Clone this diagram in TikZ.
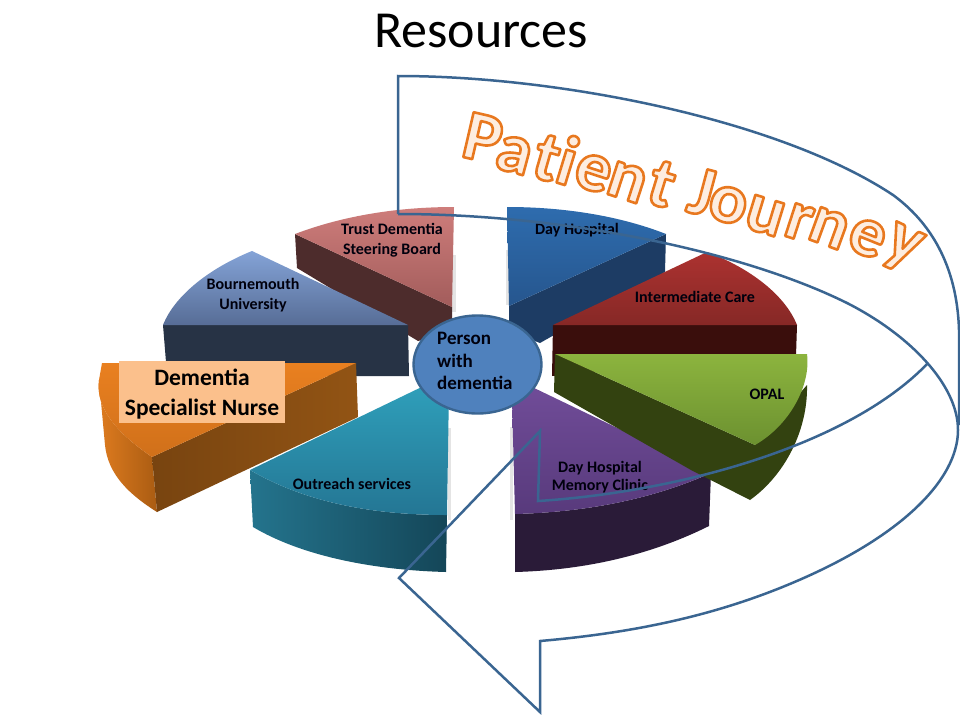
\documentclass[tikz,border=0pt]{standalone}
\usepackage{fontspec}
\setmainfont{Carlito}
\usetikzlibrary{calc,shapes.geometric}
\definecolor{arrowblue}{HTML}{3A6591}
\definecolor{jfill}{HTML}{FDEDE0}
\newcommand\jletter[1]{\special{pdf:code 2 Tr 2.6 w 0.91 0.47 0.12 RG 1 j}#1\special{pdf:code 0 Tr}}
\tikzset{
  lab/.style={font=\bfseries\fontsize{16}{20}\selectfont, align=center, text=black!95!blue, inner sep=0pt},
  journey/.style={font=\bfseries\fontsize{71}{71}\selectfont, text=jfill, inner sep=0pt},
  shad/.style={fill=black!35, opacity=.3},
  arrowline/.style={draw=arrowblue, line width=2.5pt, line join=miter}
}
\begin{document}
\begin{tikzpicture}[x=1pt,y=-1pt]
\useasboundingbox (0,0) rectangle (960,720);
\fill[white] (0,0) rectangle (960,720);

\node[font=\fontsize{52}{56}\selectfont, inner sep=0pt] (title) at (481,31) {Resources};

% soft shadows
\fill[shad] (452,255) rectangle (456,312);
\fill[shad] (506,250) rectangle (509,305);
\fill[shad] (448,428) rectangle (451,520);
\fill[shad] (510,427) rectangle (513,520);

% trust
\fill[fill={rgb,255:red,77;green,44;blue,44}] (295,234) -- (452,307) -- (452,332) -- (418,341) -- (297,268) -- cycle;
\shade[top color={rgb,255:red,206;green,125;blue,123}, bottom color={rgb,255:red,162;green,92;blue,91}]
  (295,234) .. controls (345,215) and (400,207) .. (454,207) -- (452,307) -- cycle;

% bournemouth
\fill[fill={rgb,255:red,39;green,51;blue,69}] (163,325) -- (408,325) -- (409,376) -- (300,376) -- (166,362) -- cycle;
\shade[top color={rgb,255:red,132;green,163;blue,215}, bottom color={rgb,255:red,87;green,109;blue,150}]
  (252,251) .. controls (210,268) and (175,295) .. (163,325) -- (408,325) -- cycle;

% orange
\shade[left color={rgb,255:red,225;green,125;blue,32}, right color={rgb,255:red,170;green,92;blue,18}]
  (99,380) .. controls (95,410) and (120,435) .. (152,457) -- (157,512) .. controls (130,495) and (108,475) .. (105,445) -- cycle;
\shade[left color={rgb,255:red,120;green,68;blue,16}, right color={rgb,255:red,146;green,84;blue,20}]
  (152,457) -- (356,363) -- (358,417) -- (157,512) -- cycle;
\shade[top color={rgb,255:red,233;green,128;blue,32}, bottom color={rgb,255:red,208;green,112;blue,26}]
  (102,363) -- (356,363) -- (152,457) .. controls (120,435) and (95,410) .. (99,380) -- cycle;
\node[fill={rgb,255:red,251;green,192;blue,140}, minimum width=166pt, minimum height=62pt, inner sep=0pt, font=\bfseries\fontsize{23.5}{30}\selectfont, align=center] (nurse) at (202,392) {\raisebox{-3pt}[0.7em][0.2em]{Dementia}\\\raisebox{-3pt}[0.7em][0.2em]{Specialist Nurse}};

% outreach
\shade[left color={rgb,255:red,36;green,116;blue,141}, right color={rgb,255:red,20;green,70;blue,88}]
  (250,470) .. controls (310,505) and (380,515) .. (447,515) -- (446,572) .. controls (370,570) and (300,555) .. (253,527) -- cycle;
\shade[top color={rgb,255:red,47;green,160;blue,187}, bottom color={rgb,255:red,36;green,118;blue,148}]
  (250,470) -- (432,382) -- (449,388) -- (447,515) .. controls (380,515) and (310,505) .. (250,470) -- cycle;

% day hospital
\fill[fill={rgb,255:red,29;green,60;blue,100}] (666,234) -- (665,272) -- (540,343) -- (509,331) -- (509,306) -- cycle;
\shade[top color={rgb,255:red,46;green,108;blue,174}, bottom color={rgb,255:red,38;green,86;blue,142}]
  (507,207) .. controls (565,207) and (620,216) .. (666,234) -- (509,306) -- cycle;

% red
\fill[fill={rgb,255:red,58;green,14;blue,12}] (553,325) -- (797,325) -- (796,356) -- (552,376) -- cycle;
\shade[top color={rgb,255:red,172;green,50;blue,48}, bottom color={rgb,255:red,134;green,40;blue,38}]
  (707,252) .. controls (750,268) and (785,295) .. (797,325) -- (553,325) -- cycle;

% purple
\fill[fill={rgb,255:red,42;green,27;blue,56}] (515,514) .. controls (590,512) and (655,498) .. (711,473) -- (709,526) .. controls (655,553) and (590,570) .. (515,572) -- cycle;
\shade[top color={rgb,255:red,112;green,76;blue,152}, bottom color={rgb,255:red,88;green,58;blue,124}]
  (532,387) -- (711,473) .. controls (655,498) and (590,512) .. (515,514) -- (512,400) -- cycle;

% opal
\fill[fill={rgb,255:red,51;green,66;blue,16}] (555,354) -- (755,445) -- (807,385) .. controls (808,430) and (785,475) .. (750,500) -- (691,470) -- (554,392) -- cycle;
\shade[top color={rgb,255:red,140;green,180;blue,62}, bottom color={rgb,255:red,108;green,145;blue,48}]
  (555,354) -- (807,354) .. controls (811,385) and (790,425) .. (755,445) -- cycle;

% centre
\node[ellipse, draw=arrowblue, line width=2.4pt, fill={rgb,255:red,79;green,129;blue,189}, minimum width=128pt, minimum height=98pt, inner sep=0pt] (centre) at (477.5,364.5) {};
\node[anchor=west, align=left, font=\bfseries\fontsize{19}{22.5}\selectfont, text=black!95!blue, inner sep=0pt] (person) at (437,361) {Person\\with\\dementia};

% labels
\node[lab] (trust) at (392,240) {Trust Dementia\\Steering Board};
\node[lab] (bu) at (253,295) {Bournemouth\\University};
\node[lab] (out) at (352,484) {Outreach services};
\node[lab] (dh) at (577,230) {Day Hospital};
\node[lab] (ic) at (695,297) {Intermediate Care};
\node[lab] (opal) at (767,394) {OPAL};
\node[lab, font=\bfseries\fontsize{16}{18}\selectfont] (mem) at (600,477) {Day Hospital\\Memory Clinic};

% journey arrow
\draw[arrowline] (398,214) -- (398,76) .. controls (560,76) and (780,120) .. (893,195) .. controls (930,222) and (957,265) .. (959,330) -- (959,425);
\draw[arrowline] (398,214) .. controls (560,214) and (740,250) .. (847,303) .. controls (910,335) and (958,385) .. (958,430)
  .. controls (958,480) and (900,540) .. (780,588) .. controls (700,620) and (620,634) .. (540,641) -- (540,712) -- (399,578) -- (540,431) -- (538,501)
  .. controls (680,492) and (850,445) .. (928,363);

% Patient Journey
\foreach \n/\ch/\x/\y/\r in {a/P/483/138/13, b/a/514/155/15, c/t/547/158/16, d/i/568/160/17, e/e/593/173/18, f/n/627/182/18, g/t/662/184/17, h/J/702/192/15, i/o/728/205/15, j/u/765/216/17, k/r/799/222/18, l/n/829/228/20, m/e/867/238/22, o/y/902/249/25}{
  \node[journey, rotate=-\r] (pj\n) at (\x,\y) {\jletter{\ch}};
}
\end{tikzpicture}
\end{document}
